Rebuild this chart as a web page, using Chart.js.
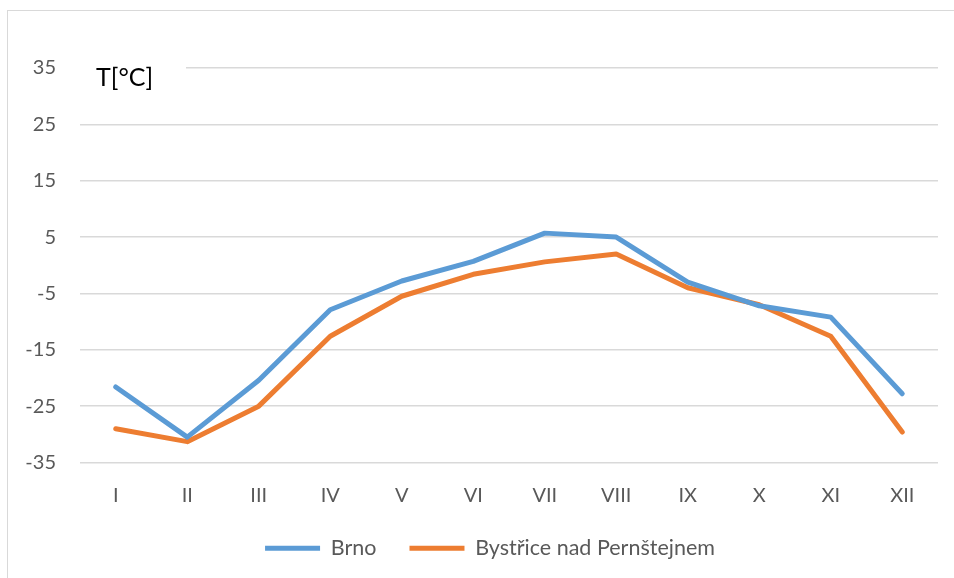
<!DOCTYPE html>
<html>
<head>
<meta charset="utf-8">
<script src="https://cdn.jsdelivr.net/npm/chart.js@4.4.0/dist/chart.umd.min.js"></script>
<style>
  html, body { margin: 0; padding: 0; background: #fff; overflow: hidden; }
  #wrap { position: relative; width: 954px; height: 578px; }
  #frame { position: absolute; left: 7px; top: 10px; width: 960px; height: 580px; border: 1px solid #d9d9d9; }
  #chart { position: absolute; left: 0; top: 0; }
</style>
</head>
<body>
<div id="wrap">
  <div id="frame"></div>
  <canvas id="chart" width="954" height="578"></canvas>
</div>
<script>
const months = ['I', 'II', 'III', 'IV', 'V', 'VI', 'VII', 'VIII', 'IX', 'X', 'XI', 'XII'];
const brno = [-21.6, -30.5, -20.4, -7.9, -2.8, 0.7, 5.7, 5.0, -3.0, -7.2, -9.2, -22.8];
const bystrice = [-29.0, -31.3, -25.0, -12.6, -5.5, -1.6, 0.6, 2.0, -4.0, -7.0, -12.6, -29.6];
const yTicks = [-35, -25, -15, -5, 5, 15, 25, 35];

const fontFamily = 'Lato, "Open Sans", sans-serif';

// axis caption in the top-left corner, sitting over the top gridline
const unitLabel = {
    id: 'unitLabel',
    afterLayout(chart) {
        // legend in the original sits a bit right of centre and closer to the axis
        chart.legend.left += 21;
        chart.legend.right += 21;
        chart.legend.top -= 24;
        chart.legend.bottom -= 24;
    },
    beforeDatasetsDraw(chart) {
        const { ctx, chartArea, scales } = chart;
        const y = scales.y.getPixelForValue(35);
        ctx.save();
        ctx.fillStyle = '#fff';
        ctx.fillRect(chartArea.left, y - 6, 106, 12);
        ctx.fillStyle = '#000';
        ctx.font = '25px ' + fontFamily;
        ctx.textBaseline = 'middle';
        ctx.textAlign = 'left';
        ctx.fillText('T[°C]', chartArea.left + 16, y + 10);
        ctx.restore();
    }
};

new Chart(document.getElementById('chart'), {
    type: 'line',
    data: {
        labels: months,
        datasets: [{
            label: 'Brno',
            data: brno,
            borderColor: '#5b9bd5',
            backgroundColor: '#5b9bd5',
            borderWidth: 5,
            borderCapStyle: 'round',
            borderJoinStyle: 'round',
            pointRadius: 0,
            tension: 0
        }, {
            label: 'Bystřice nad Pernštejnem',
            data: bystrice,
            borderColor: '#ed7d31',
            backgroundColor: '#ed7d31',
            borderWidth: 5,
            borderCapStyle: 'round',
            borderJoinStyle: 'round',
            pointRadius: 0,
            tension: 0
        }]
    },
    options: {
        responsive: false,
        animation: false,
        layout: { padding: { top: 68, left: 0, right: 16, bottom: -15 } },
        scales: {
            x: {
                offset: true,
                grid: { display: false, drawTicks: false },
                border: { display: false },
                ticks: { color: '#595959', font: { family: fontFamily, size: 20 }, padding: 21 }
            },
            y: {
                min: -35,
                max: 35,
                afterBuildTicks(axis) { axis.ticks = yTicks.map(v => ({ value: v })); },
                afterFit(axis) { axis.width = 80; },
                grid: { color: '#d9d9d9', lineWidth: 1.5, drawTicks: false },
                border: { display: false },
                ticks: { color: '#595959', font: { family: fontFamily, size: 20 }, padding: 24 }
            }
        },
        plugins: {
            tooltip: { enabled: false },
            legend: {
                position: 'bottom',
                labels: {
                    usePointStyle: true,
                    pointStyle: 'line',
                    pointStyleWidth: 55,
                    color: '#595959',
                    font: { family: fontFamily, size: 21.5 },
                    padding: 33
                }
            }
        }
    },
    plugins: [unitLabel]
});
</script>
</body>
</html>
